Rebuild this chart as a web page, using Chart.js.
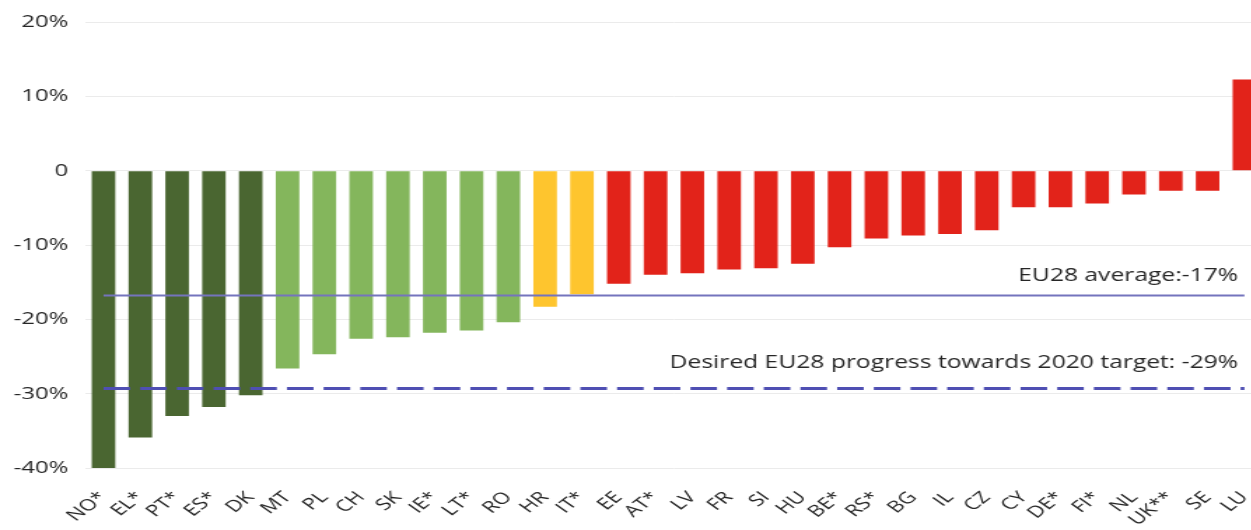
<!DOCTYPE html>
<html><head><meta charset="utf-8">
<script src="https://cdn.jsdelivr.net/npm/chart.js@4.4.1/dist/chart.umd.min.js"></script>
<style>
html,body{margin:0;padding:0;overflow:hidden;background:#fff;width:1251px;height:530px}
#wrap{position:absolute;left:0;top:0;width:907px;height:530px;transform:scaleX(1.4);transform-origin:0 0}
</style></head><body>
<div id="wrap"><canvas id="c" width="907" height="530"></canvas></div>
<script>
const categories = ['NO*','EL*','PT*','ES*','DK','MT','PL','CH','SK','IE*','LT*','RO','HR','IT*','EE','AT*','LV','FR','SI','HU','BE*','RS*','BG','IL','CZ','CY','DE*','FI*','NL','UK**','SE','LU'];
const changes = [-40.0,-35.9,-33.0,-31.8,-30.2,-26.6,-24.7,-22.6,-22.4,-21.8,-21.5,-20.4,-18.3,-16.6,-15.2,-14.0,-13.8,-13.3,-13.1,-12.5,-10.3,-9.1,-8.7,-8.5,-8.0,-4.9,-4.9,-4.4,-3.2,-2.7,-2.7,12.3];
const groups = ['a','a','a','a','a','b','b','b','b','b','b','b','c','c','d','d','d','d','d','d','d','d','d','d','d','d','d','d','d','d','d','d'];
const euAverage = -16.8;
const desiredProgress = -29.3;
const averageLabel = 'EU28 average:-17%';
const targetLabel = 'Desired EU28 progress towards 2020 target: -29%';
const yMin = -40, yMax = 20, yStep = 10;

const groupColors = {a:'#4a6631', b:'#84b65c', c:'#fec52e', d:'#e2231a'};
const FONT = '"Open Sans", "Noto Sans", sans-serif';

const labelPlugin = {
  id: 'refLabels',
  afterDatasetsDraw(chart) {
    const {ctx, scales: {x, y}} = chart;
    const xr = x.getPixelForValue(categories.length - 1) - 4.5;
    ctx.save();
    ctx.font = '17.6px ' + FONT;
    ctx.fillStyle = '#262626';
    ctx.textAlign = 'right';
    ctx.textBaseline = 'middle';
    ctx.fillText(averageLabel, xr, y.getPixelForValue(euAverage) - 20);
    ctx.fillText(targetLabel, xr, y.getPixelForValue(desiredProgress) - 26);
    ctx.restore();
  }
};

new Chart(document.getElementById('c'), {
  data: {
    labels: categories,
    datasets: [
      {
        type: 'bar',
        data: changes,
        backgroundColor: groups.map(g => groupColors[g]),
        barPercentage: 0.64,
        categoryPercentage: 1,
        order: 2
      },
      {
        type: 'line',
        data: [{x: categories[0], y: euAverage}, {x: categories[categories.length - 1], y: euAverage}],
        borderColor: '#7474bd',
        borderWidth: 2,
        pointRadius: 0,
        fill: false,
        order: 1
      },
      {
        type: 'line',
        data: [{x: categories[0], y: desiredProgress}, {x: categories[categories.length - 1], y: desiredProgress}],
        borderColor: '#4f4fb3',
        borderWidth: 3,
        borderDash: [19, 7.2],
        pointRadius: 0,
        fill: false,
        order: 0
      }
    ]
  },
  options: {
    responsive: false,
    animation: false,
    devicePixelRatio: 1,
    layout: {padding: {top: 21, right: 5, left: 0, bottom: 0}},
    plugins: {legend: {display: false}, tooltip: {enabled: false}},
    scales: {
      x: {
        offset: true,
        grid: {display: false, drawTicks: false},
        border: {display: false},
        ticks: {
          autoSkip: false,
          minRotation: 46,
          maxRotation: 46,
          padding: 20,
          color: '#262626',
          font: {family: FONT, size: 16}
        },
        afterFit(scale) { scale.height = 62; scale.paddingLeft = 0; scale.paddingRight = 0; }
      },
      y: {
        min: yMin,
        max: yMax,
        grid: {color: '#ebebeb', lineWidth: 1, drawTicks: false},
        border: {display: false},
        ticks: {
          stepSize: yStep,
          padding: 12,
          color: '#262626',
          font: {family: FONT, size: 17},
          callback: v => v === 0 ? '0' : v + '%'
        },
        afterFit(scale) { scale.width = 60.8; }
      }
    }
  },
  plugins: [labelPlugin]
});
</script>
</body></html>
